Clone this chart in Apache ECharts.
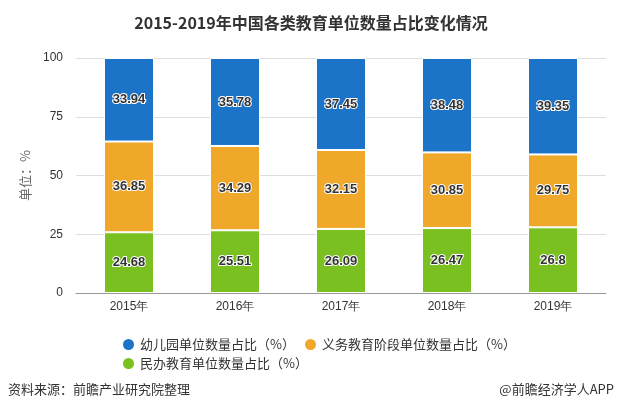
<!DOCTYPE html>
<html><head><meta charset="utf-8">
<script src="https://cdn.jsdelivr.net/npm/echarts@6/dist/echarts.min.js"></script>
<style>html,body{margin:0;padding:0;background:#fff}#c{width:622px;height:413px}</style>
</head><body><div id="c"></div>
<script>
const categories = ['2015年','2016年','2017年','2018年','2019年'];
const kindergarten = [33.94, 35.78, 37.45, 38.48, 39.35];
const compulsory = [36.85, 34.29, 32.15, 30.85, 29.75];
const privateEdu = [24.68, 25.51, 26.09, 26.47, 26.8];
const yTicks = [0, 25, 50, 75, 100];
const seriesNames = ['幼儿园单位数量占比（%）','义务教育阶段单位数量占比（%）','民办教育单位数量占比（%）'];

const totals = categories.map((_, i) => kindergarten[i] + compulsory[i] + privateEdu[i]);
function share(arr){ return arr.map((v, i) => ({ value: v / totals[i] * 100, raw: v })); }

const cjk = '"Noto Sans CJK SC", sans-serif';
const label = {
  show: true, position: 'inside', formatter: p => p.data.raw,
  color: '#333', fontWeight: 'bold', fontSize: 13, fontFamily: 'Arial, "Liberation Sans", sans-serif',
  textBorderColor: '#fff', textBorderWidth: 2
};
const legendBase = { itemWidth: 13, itemHeight: 13, icon: 'circle', itemGap: 10,
  textStyle: { fontSize: 13, color: '#333', fontFamily: cjk } };
const chart = echarts.init(document.getElementById('c'));
chart.setOption({
  animation: false,
  title: { text: '2015-2019年中国各类教育单位数量占比变化情况', left: 'center', top: 10,
    textStyle: { fontSize: 16, fontWeight: 'bold', color: '#333', fontFamily: cjk } },
  legend: [
    Object.assign({ left: 116, top: 332, data: [seriesNames[0]] }, legendBase),
    Object.assign({ left: 298, top: 332, data: [seriesNames[1]] }, legendBase),
    Object.assign({ left: 116, top: 351, data: [seriesNames[2]] }, legendBase)
  ],
  grid: { left: 76, right: 16, top: 58, bottom: 120 },
  xAxis: { type: 'category', data: categories,
    axisLine: { lineStyle: { color: '#999' } }, axisTick: { alignWithLabel: true, lineStyle: { color: '#999' } },
    axisLabel: { color: '#333', fontSize: 12, margin: 8 } },
  yAxis: { type: 'value', min: yTicks[0], max: yTicks[yTicks.length-1], interval: 25,
    name: '单位：%', nameLocation: 'middle', nameGap: 44, nameRotate: 90,
    nameTextStyle: { color: '#666', fontSize: 13, fontFamily: cjk },
    axisLine: { show: false }, axisTick: { show: false },
    axisLabel: { color: '#333', fontSize: 12, margin: 13 },
    splitLine: { lineStyle: { color: '#ddd' } } },
  series: [
    { name: seriesNames[2], type: 'bar', stack: 'a', barWidth: 50, data: share(privateEdu),
      itemStyle: { color: '#79c020', borderColor: '#fff', borderWidth: 1 }, label },
    { name: seriesNames[1], type: 'bar', stack: 'a', barWidth: 50, data: share(compulsory),
      itemStyle: { color: '#f0a82a', borderColor: '#fff', borderWidth: 1 }, label },
    { name: seriesNames[0], type: 'bar', stack: 'a', barWidth: 50, data: share(kindergarten),
      itemStyle: { color: '#1c74c8', borderColor: '#fff', borderWidth: 1 }, label }
  ],
  graphic: [
    { type: 'text', left: 8, top: 383, style: { text: '资料来源：前瞻产业研究院整理', fontSize: 13, fill: '#333', fontFamily: cjk } },
    { type: 'text', right: 8, top: 383, style: { text: '@前瞻经济学人APP', fontSize: 13, fill: '#333', fontFamily: cjk } }
  ]
});
</script></body></html>
